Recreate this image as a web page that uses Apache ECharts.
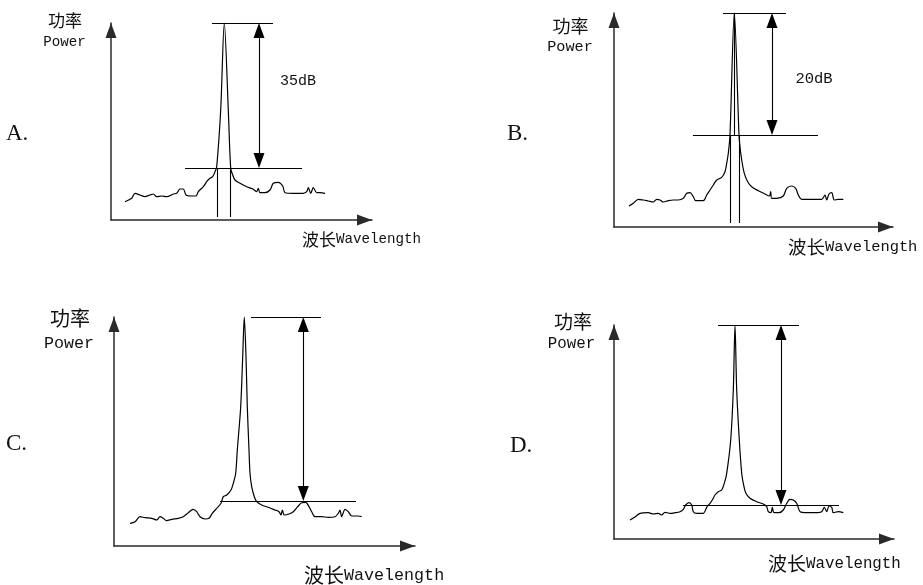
<!DOCTYPE html>
<html><head><meta charset="utf-8">
<script src="https://cdn.jsdelivr.net/npm/echarts@6/dist/echarts.min.js"></script>
<style>html,body{margin:0;padding:0;background:#fff}#c{width:923px;height:585px}</style>
</head><body><div id="c"></div><script>
// ---- data (arbitrary units: wavelength along x, power along y, origin at the axes' corner) ----
const panelNames = ['A.', 'B.', 'C.', 'D.'];
const yTitle = ['功率', 'Power'];
const xTitle = ['波长', 'Wavelength'];
const dbLabels = ['35dB', '20dB', '', ''];
const xMax = [261, 279, 301, 280];
const yMax = [197, 214, 229, 214];

const spectrumA = [[14,18.3],[20.7,21.7],[24,26.7],[29,25],[34,23.3],[39,25],[42.3,26],[45.7,23.3],[50.7,24],[55.7,23.3],[62.3,26],[65.7,26.7],[69,31],[72.3,31],[75,25],[80.7,24],[85,24],[87.3,28.3],[92.3,33.3],[95.7,38.3],[99,41.7],[101.7,43.3],[104,48.3],[105.7,53.3],[109.7,110],[113.3,197],[117.3,110],[119.7,51.7],[121.7,45],[124,40],[129,36.7],[135.7,33.3],[142.3,30.7],[145.7,28.3],[147.3,31.7],[149,27.3],[154,27.3],[159,30],[162.3,36.7],[167.3,37.7],[171.7,34],[174,27.3],[182.3,26.7],[192.3,26.7],[195.7,28.3],[197.3,32.3],[199.7,26.7],[202.3,32.3],[205.7,27.3],[209,27.3],[214,26.7]];
const spectrumB = [[15,21],[19.3,23.7],[24.3,27.7],[29.3,27],[34.3,26],[39.3,25],[42.7,27.7],[46,27],[49.3,25],[54.3,26.3],[59.3,27],[64.3,27],[69.3,28.7],[72.7,33.7],[76,34.3],[79.3,30.3],[81.7,26.3],[89.3,26.3],[92.7,32],[96,37],[99.3,42],[102.7,47],[107.7,49.7],[111,55.3],[112.7,63.7],[114.3,73.7],[116,92],[120.3,214],[125,92],[126,80.3],[127.7,67],[130.3,53.7],[133.7,45.3],[137.7,40.3],[144.3,36.3],[151,33],[155.3,31],[156.7,35.3],[157.7,28.7],[162.7,28.7],[169.3,31],[172.7,38.7],[177.7,41],[181.7,38.7],[184.3,32],[187.7,27.7],[197.7,27.7],[207.7,27.7],[211,32],[212.7,27],[215,33],[217.7,34.3],[220.3,27],[224.3,27.7],[229.3,27.7]];
const spectrumC = [[16,22.7],[21,24.3],[26,29.3],[31,28.3],[37.7,27.7],[42.7,26],[46,29.3],[49.3,27.7],[52.7,25.3],[57.7,26.7],[64.3,27.7],[69.3,29.3],[74.3,33.3],[79.3,36.7],[82.7,34.3],[86,29.3],[91,27],[95,27.7],[98.3,32.7],[102.7,37.7],[107,42.7],[109.3,49.3],[112.7,51],[117,56],[119.3,62.7],[121.7,72.7],[123.3,96],[126.7,139.3],[128.7,189.3],[130.3,229],[132,189.3],[133.3,139.3],[135,96],[136,72.7],[137.7,59.3],[140.3,49.3],[142.7,44.3],[147.7,41],[154.3,38.7],[161,36],[165,34.3],[167,31],[168.3,36],[170.3,31],[175,32],[179.3,34.3],[183.7,39.3],[187.7,43.3],[191.7,43.7],[195,39.3],[197.7,34.3],[201,29.3],[207.7,29.3],[214.3,28.7],[221,29.3],[224.3,32.7],[226,36],[227.7,29.3],[231,36.7],[234.3,34.3],[237.7,30],[244.3,30],[247.7,29.3]];
const spectrumD = [[16,19],[21,22],[26,25.7],[34.3,26.3],[39.3,25],[44.3,25.7],[47.7,24],[51,26.7],[56,25.7],[61,26.3],[66,27.3],[69.3,29.7],[71.7,34],[75,36.3],[77.7,34],[79.3,27.3],[82.7,25.7],[89.3,25.7],[92.7,31.7],[96,35.7],[98.3,39],[101,44],[104.3,47.3],[107.7,49],[110.3,55.7],[112.7,65.7],[116.7,99],[119.3,149],[121,214],[122.7,149],[125.3,99],[127.7,65.7],[129.3,55.7],[131.7,46.3],[136,40.7],[142.7,37.3],[149.3,35],[152.7,32.3],[154.3,27.3],[157,26.3],[158.3,31.7],[160,26.3],[165,26.3],[169.3,29],[172.7,35.7],[176,39.7],[179.3,39],[182.7,35.7],[186,27.3],[191,26.3],[201,26.3],[207.7,27.3],[210.3,31.7],[212.7,27.3],[215,33],[217.7,31.7],[219.3,26.3],[224.3,27.3],[229.3,26.3]];
const spectra = [spectrumA, spectrumB, spectrumC, spectrumD];

// reference lines: [x1, x2, y] for horizontals
const topLines = [[101,162,197],[109,172,214],[137,207,229],[104,185,214]];
const floorLines = [[74,191,52],[79,204,92],[106,242,45],[69,225,34]];
// double arrows: [x, yTop, yBottom]
const dbArrows = [[148,197,52],[158,214,92],[189.3,229,45],[167,214,34]];
// vertical marker lines: [x, yTop, yBottom]
const markersA = [[106.3,52,3],[119.7,52,3]];
const markersB = [[116,92,4],[125,92,4],[120.3,214,92]];
const markers = [markersA, markersB, [], []];

// ---- layout ----
const grids = [
  {left:111, top:23, width:261, height:197},
  {left:614, top:13, width:279, height:214},
  {left:114, top:317, width:301, height:229},
  {left:614, top:325, width:280, height:214}
];
const ARROW = [11, 15];
const HALF = ARROW[1] / 2;
const AX_COLOR = '#2a2a2a';

function axisCommon(max, idx) {
  return {
    type:'value', gridIndex: idx, min:0, max: max,
    axisLine:{show:true, symbol:['none','triangle'], symbolSize:[11,15], symbolOffset:[0,-7.5],
      lineStyle:{color:AX_COLOR, width:1.5}},
    axisTick:{show:false}, axisLabel:{show:false}, splitLine:{show:false}
  };
}
function seg(x1,y1,x2,y2) { return [{coord:[x1,y1]},{coord:[x2,y2]}]; }

const series = spectra.map((sp, i) => {
  const ml = [];
  const t = topLines[i], f = floorLines[i], a = dbArrows[i];
  ml.push(seg(t[0], t[2], t[1], t[2]));
  ml.push(seg(f[0], f[2], f[1], f[2]));
  markers[i].forEach(m => ml.push(seg(m[0], m[1], m[0], m[2])));
  ml.push([
    {coord:[a[0], a[1] - HALF], symbol:'triangle', symbolSize:ARROW},
    {coord:[a[0], a[2] + HALF], symbol:'triangle', symbolSize:ARROW}
  ]);
  return {
    type:'line', xAxisIndex:i, yAxisIndex:i, data: sp,
    smooth:0.3, showSymbol:false, clip:false, silent:true,
    lineStyle:{color:'#000', width:1.2},
    markLine:{
      silent:true, symbol:'none', animation:false, precision:4,
      label:{show:false}, emphasis:{disabled:true},
      lineStyle:{color:'#000', width:1.1, type:'solid'},
      data: ml
    }
  };
});

// text placement
const textLayout = [
  {cjk:[65,21,17], pow:[64.5,42,14.2], let:[6,134], xt:[302,239.5,17,14.2], db:[298,81,15]},
  {cjk:[570.5,26,18], pow:[570,47,15.2], let:[507,134], xt:[788,247,18.5,15.4], db:[814,79,15.5]},
  {cjk:[70,318.5,20], pow:[69,343.5,16.7], let:[6,444], xt:[304,575.5,20,16.7], db:[0,0,0]},
  {cjk:[573,321.5,19], pow:[571.5,344,15.8], let:[510,446], xt:[768,563.5,19,15.8], db:[0,0,0]}
];
const CJK = '"Noto Sans CJK SC", sans-serif';
const MONO = '"Liberation Mono", monospace';
const SERIF = '"Liberation Serif", serif';
const graphic = [];
function txt(text, x, y, size, fam, align) {
  graphic.push({type:'text', x:x, y:y, silent:true,
    style:{text:text, fontSize:size, fontFamily:fam, fill:'#111', align:align, verticalAlign:'middle'}});
}
textLayout.forEach((L, i) => {
  txt(yTitle[0], L.cjk[0], L.cjk[1], L.cjk[2], CJK, 'center');
  txt(yTitle[1], L.pow[0], L.pow[1], L.pow[2], MONO, 'center');
  txt(panelNames[i], L.let[0], L.let[1], 23, SERIF, 'left');
  txt(xTitle[0], L.xt[0], L.xt[1], L.xt[2], CJK, 'left');
  txt(xTitle[1], L.xt[0] + 2 * L.xt[2], L.xt[1], L.xt[3], MONO, 'left');
  if (dbLabels[i]) txt(dbLabels[i], L.db[0], L.db[1], L.db[2], MONO, 'center');
});

const chart = echarts.init(document.getElementById('c'), null, {renderer:'canvas'});
chart.setOption({
  animation:false,
  backgroundColor:'#fff',
  grid: grids,
  xAxis: xMax.map((m, i) => axisCommon(m, i)),
  yAxis: yMax.map((m, i) => axisCommon(m, i)),
  series: series,
  graphic: graphic
});
</script></body></html>
